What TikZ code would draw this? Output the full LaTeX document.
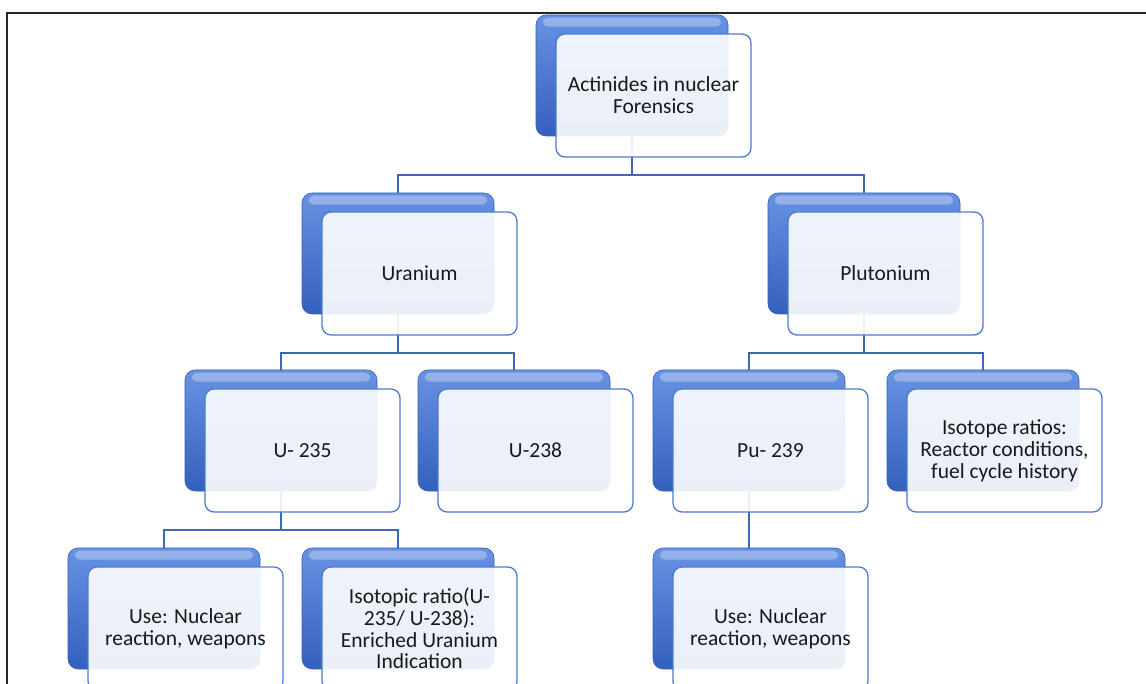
\documentclass[tikz,border=0pt]{standalone}
\usepackage{fontspec}
\setmainfont{Carlito}
\usetikzlibrary{calc}
\pgfdeclarelayer{bg}
\pgfsetlayers{bg,main}
\definecolor{conn}{RGB}{60,104,186}
\definecolor{backtop}{RGB}{104,146,226}
\definecolor{backbot}{RGB}{52,96,190}
\definecolor{frontline}{RGB}{74,123,208}
\definecolor{txt}{RGB}{25,25,25}
\tikzset{
  backbox/.style={rounded corners=10pt, minimum width=192pt, minimum height=121pt, inner sep=0pt,
    top color=backtop, bottom color=backbot, draw=backbot, line width=0.6pt},
  frontbox/.style={rounded corners=9pt, minimum width=195pt, minimum height=123pt, inner sep=0pt,
    fill=white, fill opacity=0.9, text opacity=1, draw=frontline, line width=1.3pt,
    align=center, font=\fontsize{21.5}{21.8}\selectfont, text=txt},
  gloss/.style={white, opacity=0.3, rounded corners=5pt},
  link/.style={draw=conn, line width=2pt},
  frame/.style={draw=black!85, line width=1.5pt},
}
\newcommand\SmartBox[4]{%
  \node[backbox] (#1b) at (#2+96,#3+60.5) {};
  \fill[gloss] ($(#1b.north west)+(7,3)$) rectangle ($(#1b.north east)+(-7,12)$);
  \node[frontbox] (#1) at (#2+117.5,#3+80.5) {#4};
}
\begin{document}
\begin{tikzpicture}[x=1pt,y=-1pt]
\useasboundingbox (0,0) rectangle (1146,684);
\clip (0,0) rectangle (1146,684);
\draw[frame] (7,684) -- (7,13) -- (1146,13);

\SmartBox{root}{536}{15}{Actinides in nuclear\\Forensics}
\SmartBox{ura}{302}{193}{Uranium}
\SmartBox{plu}{768}{193}{Plutonium}
\SmartBox{ua}{185}{370}{U- 235}
\SmartBox{ub}{418}{370}{U-238}
\SmartBox{pu}{653}{370}{Pu- 239}
\SmartBox{iso}{887}{370}{Isotope ratios:\\Reactor conditions,\\fuel cycle history}
\SmartBox{usea}{68}{548}{Use: Nuclear\\reaction, weapons}
\SmartBox{isor}{302}{548}{Isotopic ratio(U-\\235/ U-238):\\Enriched Uranium\\Indication}
\SmartBox{useb}{653}{548}{Use: Nuclear\\reaction, weapons}

\begin{pgfonlayer}{bg}
\fill[white] (0,0) rectangle (1146,684);
\coordinate (h1) at (0,175);
\coordinate (h2) at (0,353);
\coordinate (h3) at (0,530);
\draw[link] (rootb.center) -- (rootb.center |- h1) -| (urab.center);
\draw[link] (rootb.center |- h1) -| (plub.center);
\draw[link] (urab.center) -- (urab.center |- h2) -| (uab.center);
\draw[link] (urab.center |- h2) -| (ubb.center);
\draw[link] (plub.center) -- (plub.center |- h2) -| (pub.center);
\draw[link] (plub.center |- h2) -| (isob.center);
\draw[link] (uab.center) -- (uab.center |- h3) -| (useab.center);
\draw[link] (uab.center |- h3) -| (isorb.center);
\draw[link] (pub.center) -- (usebb.center);
\end{pgfonlayer}
\end{tikzpicture}
\end{document}
